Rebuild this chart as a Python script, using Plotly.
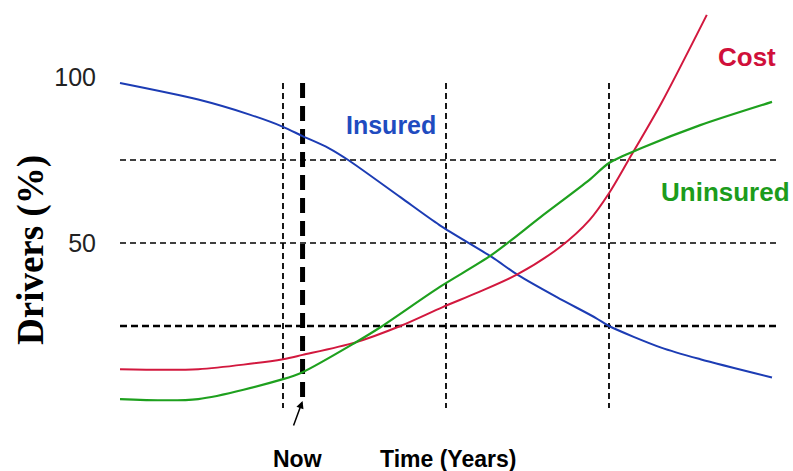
import plotly.graph_objects as go

# ---- data (time in arbitrary years, values in % of drivers) ----
insured_t = [0, 1.2, 2.0, 2.5, 2.8, 3.2, 3.5, 4.3, 4.9, 5.7, 6.1, 6.7, 7.3, 7.5, 8.3, 8.9, 10]
insured_v = [98.2, 93.2, 88.6, 85, 82.2, 78.6, 75, 63.8, 55.4, 45.8, 40.4, 33.7, 27.4, 25, 18.5, 15, 9.5]

cost_t = [0, 1.2, 2.5, 2.8, 3.6, 4.3, 4.95, 5.5, 6.1, 6.75, 7.2, 7.5, 7.8, 8.3, 9.0]
cost_v = [12, 12, 15, 16.3, 20, 25, 30.7, 35.2, 40.6, 48.8, 56.9, 65, 75, 92, 118.7]

uninsured_t = [0, 1.2, 2.5, 2.8, 3.6, 4.0, 4.9, 5.7, 6.45, 7.2, 7.5, 8.0, 8.9, 10]
uninsured_v = [3, 3, 9, 11.1, 19.9, 24.7, 36.7, 46.4, 57.8, 69, 74.1, 78.6, 85.5, 92.5]

ref_levels = [75, 50, 25]          # horizontal reference lines
ref_times = [2.5, 5.0, 7.5]        # vertical reference lines
now_time = 2.8                     # "Now"
tick_vals = [50, 100]
tick_text = ["50", "100"]

# ---- layout helpers ----
W, H = 793, 471
ML = 97
X_RANGE = [(ML - 120) / 65.2, (W - 120) / 65.2]
Y_RANGE = [(409 - H) / 3.32, 409 / 3.32]


def px(xp):
    return (xp - ML) / (W - ML)


def py(yp):
    return 1 - yp / H


fig = go.Figure()

# horizontal reference lines
for lv in ref_levels:
    fig.add_trace(go.Scatter(
        x=[0, 10.1], y=[lv, lv], mode="lines",
        line=dict(color="black", width=2.6 if lv == 25 else 1.6,
                  dash="7px,4px" if lv == 25 else "6px,4px"),
        hoverinfo="skip", showlegend=False))

# vertical reference lines
for tv in ref_times:
    fig.add_trace(go.Scatter(
        x=[tv, tv], y=[98.2, 0.3], mode="lines",
        line=dict(color="black", width=1.8, dash="6px,4px"),
        hoverinfo="skip", showlegend=False))

fig.add_trace(go.Scatter(
    x=[now_time, now_time], y=[98.2, 3.3], mode="lines",
    line=dict(color="black", width=5, dash="15px,8px"),
    hoverinfo="skip", showlegend=False))

# curves
fig.add_trace(go.Scatter(x=insured_t, y=insured_v, mode="lines", name="Insured",
                         line=dict(color="#1c3cb4", width=2, shape="spline", smoothing=0.8),
                         showlegend=False))
fig.add_trace(go.Scatter(x=cost_t, y=cost_v, mode="lines", name="Cost",
                         line=dict(color="#d2183e", width=2, shape="spline", smoothing=0.8),
                         showlegend=False))
fig.add_trace(go.Scatter(x=uninsured_t, y=uninsured_v, mode="lines", name="Uninsured",
                         line=dict(color="#1ea01e", width=2.2, shape="spline", smoothing=0.8),
                         showlegend=False))

anns = [
    dict(text="<b>Insured</b>", x=px(391), y=py(125), color="#1f4cc0", size=25),
    dict(text="<b>Cost</b>", x=px(747), y=py(57), color="#d0103a", size=26),
    dict(text="<b>Uninsured</b>", x=px(725), y=py(192), color="#1c9c1c", size=26),
    dict(text="<b>Now</b>", x=px(297), y=py(459), color="black", size=23),
    dict(text="<b>Time (Years)</b>", x=px(448), y=py(459), color="black", size=23),
]
annotations = []
for a in anns:
    annotations.append(dict(
        text=a["text"], x=a["x"], y=a["y"], xref="paper", yref="paper",
        xanchor="center", yanchor="middle", showarrow=False,
        font=dict(family="Liberation Sans, Arial, sans-serif", size=a["size"], color=a["color"])))

annotations.append(dict(
    text="<b>Drivers (%)</b>", x=px(31), y=py(250), xref="paper", yref="paper",
    xanchor="center", yanchor="middle", showarrow=False, textangle=-90,
    font=dict(family="Liberation Serif, Times New Roman, serif", size=37, color="black")))

# arrow pointing to "Now"
annotations.append(dict(
    x=now_time, y=(409 - 401) / 3.32, xref="x", yref="y",
    ax=(293 - 120) / 65.2, ay=(409 - 427) / 3.32, axref="x", ayref="y",
    text="", showarrow=True, arrowhead=2, arrowsize=1, arrowwidth=1.5, arrowcolor="black"))

fig.update_layout(
    width=W, height=H,
    margin=dict(l=ML, r=0, t=0, b=0),
    paper_bgcolor="white", plot_bgcolor="white",
    hovermode=False,
    annotations=annotations,
    xaxis=dict(range=X_RANGE, visible=False, fixedrange=True),
    yaxis=dict(range=Y_RANGE, tickvals=tick_vals, ticktext=tick_text,
               showgrid=False, zeroline=False, showline=False, ticks="",
               tickfont=dict(family="Liberation Sans, Arial, sans-serif", size=25, color="#222222"),
               fixedrange=True),
)

fig.write_html("out.html", config={"displayModeBar": False},
               post_script="document.body.style.margin='0';document.body.style.overflow='hidden';")
